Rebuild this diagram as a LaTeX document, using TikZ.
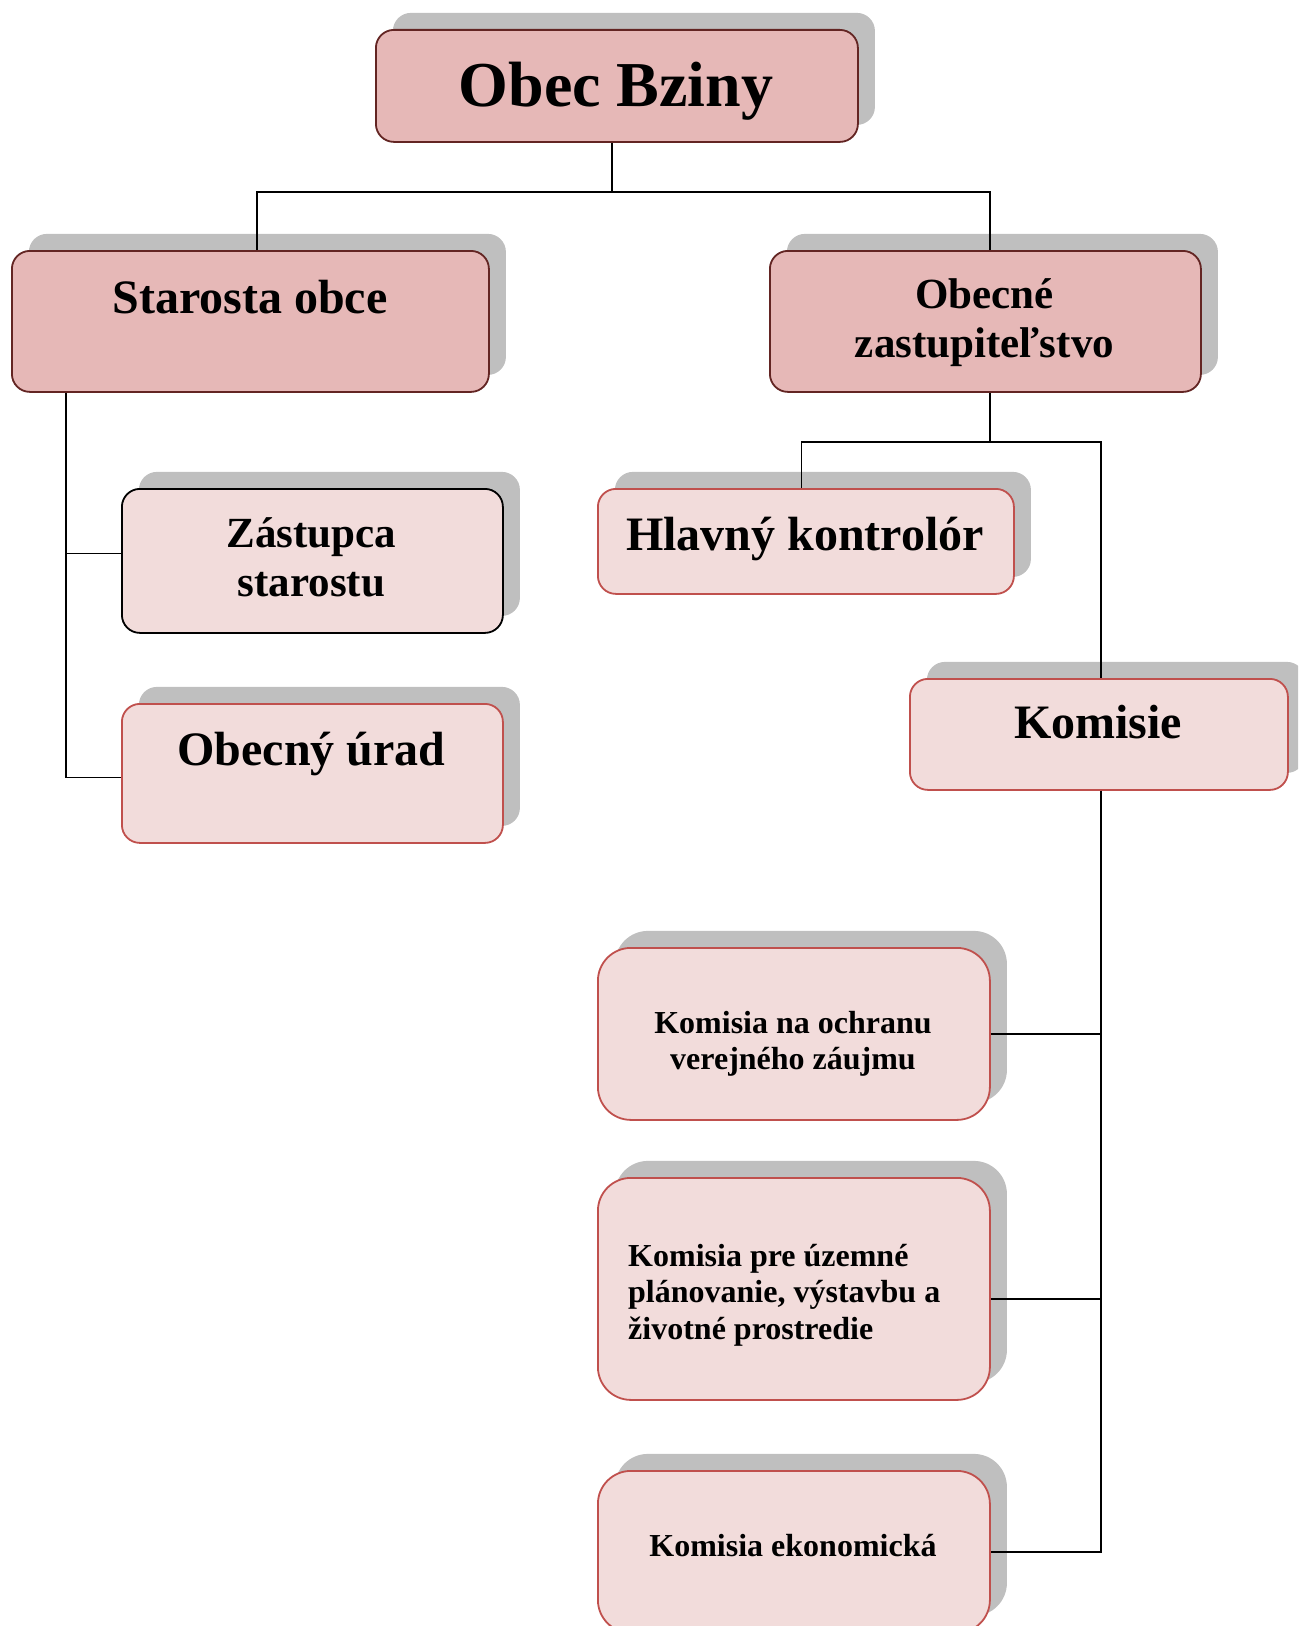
\documentclass[tikz,border=0pt]{standalone}
\usepackage{fontspec}
\setmainfont{Liberation Serif}
\usetikzlibrary{shadows}
\definecolor{topfill}{HTML}{E6B8B7}
\definecolor{topdraw}{HTML}{632523}
\definecolor{lowfill}{HTML}{F2DCDB}
\definecolor{lowdraw}{HTML}{C0504D}
\definecolor{shgray}{HTML}{BFBFBF}
\tikzset{
  box/.style={rectangle, rounded corners=18bp, line width=1.8bp, inner sep=0pt, anchor=north west,
    drop shadow={shadow xshift=17bp, shadow yshift=17bp, fill=shgray, opacity=1}},
  topbox/.style={box, fill=topfill, draw=topdraw},
  lowbox/.style={box, fill=lowfill, draw=lowdraw},
  combox/.style={lowbox, rounded corners=33bp},
  conn/.style={draw=black, line width=1.6bp},
  txt/.style={anchor=base, inner sep=0pt},
  fa/.style={txt, font=\bfseries\fontsize{64bp}{72bp}\selectfont},
  fb/.style={txt, font=\bfseries\fontsize{48bp}{54bp}\selectfont},
  fc/.style={txt, font=\bfseries\fontsize{43bp}{49bp}\selectfont},
  fd/.style={txt, font=\bfseries\fontsize{32bp}{36bp}\selectfont},
}
\begin{document}
\begin{tikzpicture}[x=1bp, y=-1bp]
\useasboundingbox (0,0) rectangle (1298,1626);
\clip (0,0) rectangle (1298,1626);

% boxes
\node[topbox, minimum width=482bp, minimum height=112bp] (obec) at (375,29) {};
\node[topbox, minimum width=477bp, minimum height=141bp] (star) at (11,250) {};
\node[topbox, minimum width=431bp, minimum height=141bp] (zast) at (769,250) {};
\node[lowbox, draw=black, minimum width=381bp, minimum height=144bp] (zas) at (121,488) {};
\node[lowbox, minimum width=381bp, minimum height=139bp] (urad) at (121,703) {};
\node[lowbox, minimum width=416bp, minimum height=105bp] (hlav) at (597,488) {};
\node[lowbox, minimum width=378bp, minimum height=111bp] (kom) at (909,678) {};
\node[combox, minimum width=392bp, minimum height=172bp] (k1) at (597,947) {};
\node[combox, minimum width=392bp, minimum height=222bp] (k2) at (597,1177) {};
\node[combox, minimum width=392bp, minimum height=162bp] (k3) at (597,1470) {};

% texts
\node[fa] (t0) at (616,106) {Obec Bziny};
\node[fb] (t1) at (250,313) {Starosta obce};
\node[fc] (t2a) at (984.5,308.5) {Obecné};
\node[fc] (t2b) at (984.5,357.5) {zastupiteľstvo};
\node[fc] (t3a) at (311.5,547) {Zástupca};
\node[fc] (t3b) at (311.5,596) {starostu};
\node[fb] (t4) at (311.5,765) {Obecný úrad};
\node[fb] (t5) at (805,550) {Hlavný kontrolór};
\node[fb] (t6) at (1098,738) {Komisie};
\node[fd] (t7a) at (793,1033) {Komisia na ochranu};
\node[fd] (t7b) at (793,1069) {verejného záujmu};
\node[fd, anchor=base west] (t8a) at (628,1266) {Komisia pre územné};
\node[fd, anchor=base west] (t8b) at (628,1302) {plánovanie, výstavbu a};
\node[fd, anchor=base west] (t8c) at (628,1339) {životné prostredie};
\node[fd] (t9) at (793,1556) {Komisia ekonomická};

% connectors
\coordinate (o1) at ([xshift=-5bp]obec.south);
\coordinate (j1) at ([yshift=-49bp]o1);
\draw[conn] (o1) -- (j1);
\draw[conn] ([xshift=6.5bp]star.north) |- (j1) -| ([xshift=4.5bp]zast.north);
\coordinate (z1) at ([xshift=4.5bp]zast.south);
\coordinate (j2) at ([yshift=-49bp]z1);
\draw[conn] (z1) -- (j2);
\draw[conn] ([xshift=-4.5bp]hlav.north) |- (j2) -| ([xshift=2bp]kom.north);
\coordinate (lx) at ([xshift=55bp]star.south west);
\draw[conn] (lx) |- ([yshift=7.5bp]zas.west);
\draw[conn] (lx) |- ([yshift=-4bp]urad.west);
\coordinate (kx) at ([xshift=2bp]kom.south);
\draw[conn] (kx) |- (k1.east);
\draw[conn] (kx) |- ([yshift=-10bp]k2.east);
\draw[conn] (kx) |- (k3.east);
\end{tikzpicture}
\end{document}
